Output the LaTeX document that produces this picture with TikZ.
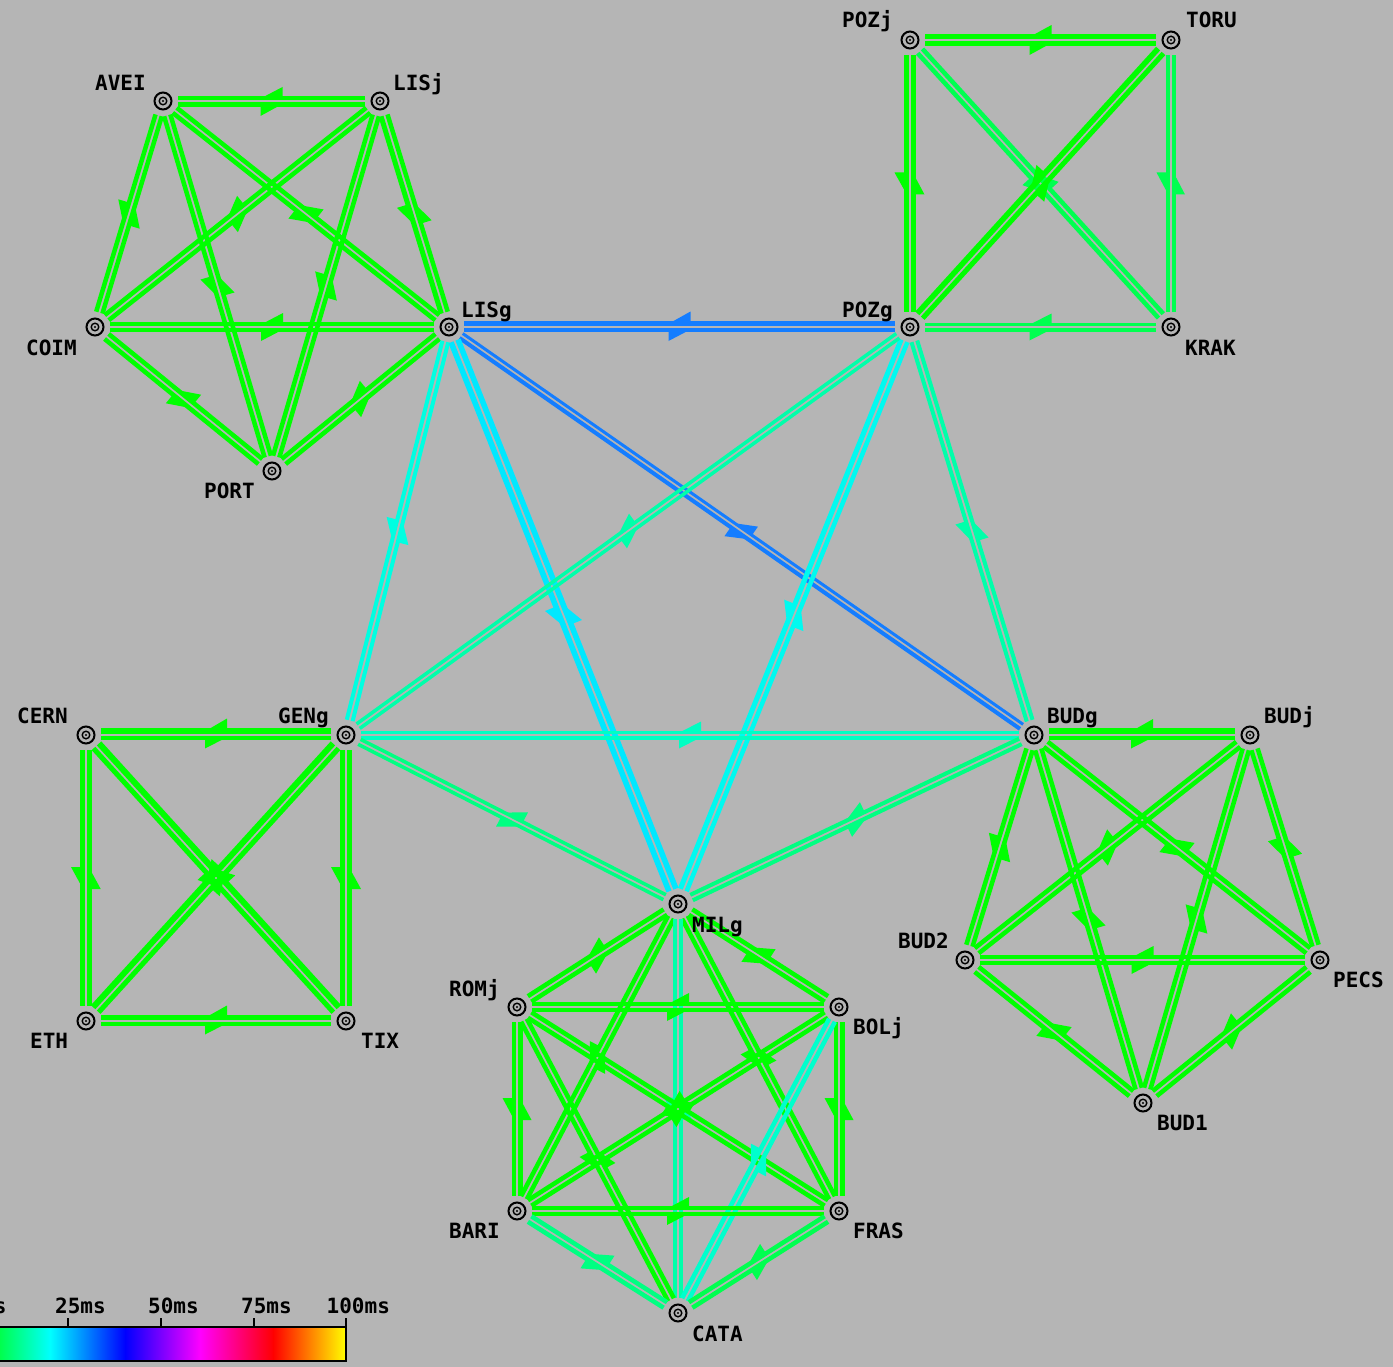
\documentclass[tikz,border=0pt]{standalone}
\usepackage{fontspec}
\newfontfamily\labfont{DejaVu Sans Mono}
\usetikzlibrary{calc}
\definecolor{bg}{RGB}{181,181,181}
\definecolor{cg}{RGB}{0,255,0}
\definecolor{cg2}{RGB}{0,255,80}
\definecolor{ct3}{RGB}{0,255,130}
\definecolor{ct1}{RGB}{0,255,170}
\definecolor{ct2}{RGB}{0,255,195}
\definecolor{caq}{RGB}{0,255,225}
\definecolor{cbc}{RGB}{0,255,205}
\definecolor{ccy2}{RGB}{0,250,240}
\definecolor{ccy}{RGB}{0,232,255}
\definecolor{cb}{RGB}{20,125,255}
\definecolor{barA}{RGB}{0,255,70}
\definecolor{barC}{RGB}{0,255,255}
\definecolor{barB}{RGB}{0,0,255}
\definecolor{barM}{RGB}{255,0,255}
\definecolor{barR}{RGB}{255,0,0}
\definecolor{barY}{RGB}{255,255,0}
\newcommand\oneway[4]{%
  \pgfmathsetmacro\ofs{1+#4/2}%
  \pgfmathsetmacro\ahw{#4/2+9}%
  \coordinate (tS) at ($(#1)!\ofs pt!-90:(#2)$);
  \coordinate (tE) at ($(#2)!\ofs pt!90:(#1)$);
  \draw[#3, line width=#4pt, shorten <=15pt, shorten >=15pt] (tS) -- (tE);
  \coordinate (tM) at ($(tS)!0.5!(tE)$);
  \coordinate (tT) at ($(tM)!10pt!(tE)$);
  \coordinate (tB) at ($(tM)!-11pt!(tE)$);
  \fill[#3] (tT) -- (tB) -- ($(tB)!\ahw pt!-90:(tT)$) -- cycle;
}
\newcommand\duplex[6]{\oneway{#1}{#2}{#3}{#4}\oneway{#2}{#1}{#5}{#6}}
\tikzset{
  hub/.style={circle, draw=black, line width=2pt, minimum size=17pt, inner sep=0pt, fill=bg},
  lab/.style={font=\labfont\bfseries\fontsize{21}{21}\selectfont, inner sep=0pt, text=black},
  tick/.style={black, line width=1.5pt}
}
\begin{document}
\begin{tikzpicture}[x=1pt,y=-1pt]
\fill[bg] (0,0) rectangle (1393,1367);
\useasboundingbox (0,0) rectangle (1393,1367);
\clip (0,0) rectangle (1393,1367);
% hub positions
\foreach \n/\x/\y in {AVEI/163/101, LISj/380/101, COIM/95/327, LISg/449/327, PORT/272/471,
  POZj/910/40, TORU/1171/40, POZg/910/327, KRAK/1171/327,
  CERN/86/735, GENg/346/735, ETH/86/1021, TIX/346/1021,
  BUDg/1034/735, BUDj/1250/735, BUD2/965/960, PECS/1320/960, BUD1/1143/1103,
  MILg/678/904, ROMj/517/1007, BOLj/839/1007, BARI/517/1211, FRAS/839/1211, CATA/678/1313}
  {\coordinate (\n) at (\x,\y);}
% Portugal
\duplex{AVEI}{LISj}{cg}{5}{cg}{4}
\duplex{AVEI}{COIM}{cg}{4.5}{cg}{4.5}
\duplex{AVEI}{LISg}{cg}{4.5}{cg}{4.5}
\duplex{AVEI}{PORT}{cg}{4.5}{cg}{4.5}
\duplex{LISj}{COIM}{cg}{4.5}{cg}{4.5}
\duplex{LISj}{LISg}{cg}{5}{cg}{4.5}
\duplex{LISj}{PORT}{cg}{4.5}{cg}{4.5}
\duplex{COIM}{LISg}{cg}{4}{cg}{4}
\duplex{COIM}{PORT}{cg}{4.5}{cg}{4.5}
\duplex{LISg}{PORT}{cg}{4.5}{cg}{4.5}
% Poland
\duplex{POZj}{TORU}{cg}{5}{cg}{5}
\duplex{POZj}{POZg}{cg}{5.5}{cg}{4.5}
\duplex{POZj}{KRAK}{cg2}{4.5}{cg2}{4.5}
\duplex{TORU}{POZg}{cg}{5.5}{cg}{5}
\duplex{TORU}{KRAK}{cg2}{4.5}{cg2}{4}
\duplex{POZg}{KRAK}{cg2}{3.5}{cg2}{3.5}
% Switzerland
\duplex{CERN}{GENg}{cg}{3.5}{cg}{6.5}
\duplex{CERN}{ETH}{cg}{5}{cg}{4.7}
\duplex{CERN}{TIX}{cg}{5}{cg}{6}
\duplex{GENg}{ETH}{cg}{6}{cg}{5}
\duplex{GENg}{TIX}{cg}{5}{cg}{5}
\duplex{ETH}{TIX}{cg}{3.5}{cg}{5.5}
% Hungary
\duplex{BUDg}{BUDj}{cg}{3.5}{cg}{6}
\duplex{BUDg}{BUD2}{cg}{4.5}{cg}{4.5}
\duplex{BUDg}{PECS}{cg}{4.5}{cg}{4.5}
\duplex{BUDg}{BUD1}{cg}{4.5}{cg}{4.5}
\duplex{BUDj}{BUD2}{cg}{4.5}{cg}{4.5}
\duplex{BUDj}{PECS}{cg}{4.5}{cg}{4.5}
\duplex{BUDj}{BUD1}{cg}{4.5}{cg}{4.5}
\duplex{BUD2}{PECS}{cg}{4}{cg}{4}
\duplex{BUD2}{BUD1}{cg}{4.5}{cg}{4.5}
\duplex{PECS}{BUD1}{cg}{4.5}{cg}{4.5}
% Italy
\duplex{MILg}{ROMj}{cg}{4.5}{cg}{4.5}
\duplex{MILg}{BOLj}{cg}{4.5}{cg}{4.5}
\duplex{MILg}{BARI}{cg}{4.5}{cg}{4.5}
\duplex{MILg}{FRAS}{cg}{4.5}{cg}{4.5}
\duplex{MILg}{CATA}{ct1}{4}{ct1}{4}
\duplex{ROMj}{BOLj}{cg}{4}{cg}{4}
\duplex{ROMj}{BARI}{cg}{4.5}{cg}{4.5}
\duplex{ROMj}{FRAS}{cg}{4.5}{cg}{4.5}
\duplex{ROMj}{CATA}{cg}{4.5}{cg}{4.5}
\duplex{BOLj}{BARI}{cg}{4.5}{cg}{4.5}
\duplex{BOLj}{FRAS}{cg}{4.5}{cg}{4.5}
\duplex{BOLj}{CATA}{cbc}{4.5}{cbc}{4.5}
\duplex{BARI}{FRAS}{cg}{4}{cg}{4}
\duplex{BARI}{CATA}{ct3}{4.5}{ct3}{4.5}
\duplex{FRAS}{CATA}{cg2}{4.5}{cg2}{4.5}
% backbone
\duplex{LISg}{POZg}{cb}{4}{cb}{5.5}
\duplex{LISg}{BUDg}{cb}{4}{cb}{3}
\duplex{LISg}{GENg}{caq}{4}{caq}{4}
\duplex{LISg}{MILg}{ccy}{5.5}{ccy}{5.5}
\duplex{POZg}{MILg}{ccy2}{5}{ccy2}{4.5}
\duplex{POZg}{GENg}{ct1}{3.5}{ct1}{3.5}
\duplex{POZg}{BUDg}{ct1}{4}{ct1}{4}
\duplex{GENg}{BUDg}{ct2}{3.5}{ct2}{3.5}
\duplex{GENg}{MILg}{ct3}{3.5}{ct3}{3.5}
\duplex{BUDg}{MILg}{ct3}{4}{ct3}{4}
% hub markers
\foreach \n in {AVEI, LISj, COIM, LISg, PORT, POZj, TORU, POZg, KRAK, CERN, GENg, ETH, TIX,
  BUDg, BUDj, BUD2, PECS, BUD1, MILg, ROMj, BOLj, BARI, FRAS, CATA}
  {\node[hub] (\n-h) at (\n) {};
   \draw[line width=1.4pt] (\n) circle (3.8pt);
   \fill (\n) circle (1.2pt);}
% labels
\foreach \n/\x/\y in {AVEI/95/83, LISj/393/83, COIM/26/348, LISg/461/310, PORT/204/491,
  POZj/842/20, TORU/1186/20, POZg/842/310, KRAK/1185/348,
  CERN/17/716, GENg/278/716, ETH/30/1041, TIX/361/1041,
  BUDg/1047/716, BUDj/1264/716, BUD2/898/941, PECS/1333/980, BUD1/1157/1123,
  MILg/692/925, ROMj/449/989, BOLj/853/1027, BARI/449/1231, FRAS/853/1231, CATA/692/1334}
  {\node[lab, anchor=base west] (\n-t) at (\x,\y+7.5) {\n};}
% colour bar
\shade[left color=barA, right color=barC] (-2,1327) rectangle (50.5,1361);
\shade[left color=barC, right color=barB] (50,1327) rectangle (125.5,1361);
\shade[left color=barB, right color=barM] (125,1327) rectangle (200.5,1361);
\shade[left color=barM, right color=barR] (200,1327) rectangle (273.5,1361);
\shade[left color=barR, right color=barY] (273,1327) rectangle (346,1361);
\draw[black, line width=1.5pt] (-2,1327) rectangle (346,1361);
\foreach \t/\s in {68/25ms, 161/50ms, 254/75ms}
  {\draw[tick] (\t,1318) -- (\t,1327);
   \node[lab, anchor=base west] at (\t-13,1313) {\s};}
\draw[tick] (346,1318) -- (346,1327);
\node[lab, anchor=base west] (t100) at (326.5,1313) {100ms};
\node[lab, anchor=base west] (t0) at (-31.5,1313) {0ms};
\end{tikzpicture}
\end{document}
